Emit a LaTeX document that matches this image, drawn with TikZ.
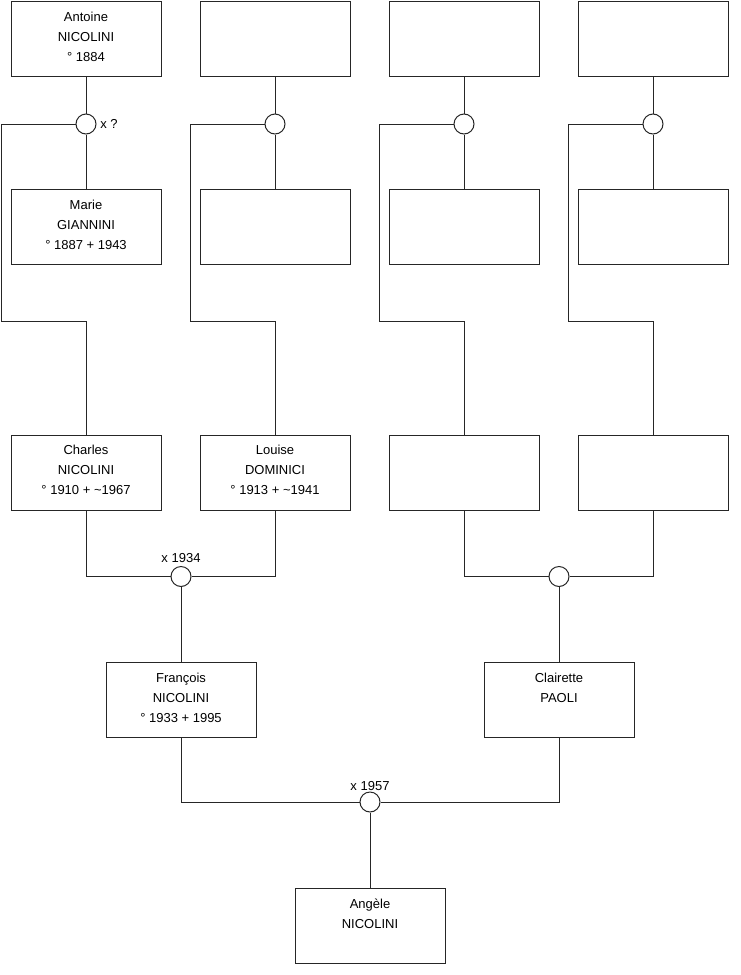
\documentclass[tikz,border=0pt]{standalone}
\usepackage{fontspec}
\setmainfont{Liberation Sans}
\begin{document}
\begin{tikzpicture}[x=0.75pt,y=-0.75pt,
  pbox/.style={draw=black!85,line width=0.75pt,fill=white,rectangle,minimum width=112.5pt,minimum height=56.25pt,inner sep=0pt},
  ptext/.style={anchor=north,align=center,inner sep=0pt,font=\fontsize{9.75}{15}\selectfont},
  union/.style={draw=black!85,line width=0.75pt,fill=white,circle,minimum size=15pt,inner sep=0pt},
  link/.style={draw=black!85,line width=0.75pt},
  ulabel/.style={inner sep=0pt,font=\fontsize{9.75}{15}\selectfont}]
\useasboundingbox (0,0) rectangle (740,975);
% generation 1 (top)
\node[pbox] (g1a) at (86,38.5) {};
\node[pbox] (g1b) at (275,38.5) {};
\node[pbox] (g1c) at (464,38.5) {};
\node[pbox] (g1d) at (653,38.5) {};
% spouses
\node[pbox] (s1a) at (86,227) {};
\node[pbox] (s1b) at (275,227) {};
\node[pbox] (s1c) at (464,227) {};
\node[pbox] (s1d) at (653,227) {};
% unions generation 1
\node[union] (u1a) at (86,124) {};
\node[union] (u1b) at (275,124) {};
\node[union] (u1c) at (464,124) {};
\node[union] (u1d) at (653,124) {};
% generation 2
\node[pbox] (g2a) at (86,472.5) {};
\node[pbox] (g2b) at (275,472.5) {};
\node[pbox] (g2c) at (464,472.5) {};
\node[pbox] (g2d) at (653,472.5) {};
\node[union] (u2a) at (181,576.5) {};
\node[union] (u2b) at (559,576.5) {};
% generation 3
\node[pbox] (g3a) at (181,699.5) {};
\node[pbox] (g3b) at (559,699.5) {};
\node[union] (u3) at (370,802) {};
% generation 4
\node[pbox] (g4) at (370,925.5) {};

% turning points
\coordinate (ka1) at (1,124);   \coordinate (ka2) at (1,321.5);   \coordinate (ka3) at (86,321.5);
\coordinate (kb1) at (190,124); \coordinate (kb2) at (190,321.5); \coordinate (kb3) at (275,321.5);
\coordinate (kc1) at (379,124); \coordinate (kc2) at (379,321.5); \coordinate (kc3) at (464,321.5);
\coordinate (kd1) at (568,124); \coordinate (kd2) at (568,321.5); \coordinate (kd3) at (653,321.5);

% links generation 1
\foreach \c in {a,b,c,d}{
  \draw[link] (g1\c.south) -- (u1\c.north);
  \draw[link] (u1\c.south) -- (s1\c.north);
  \draw[link] (u1\c.west) -- (k\c1) -- (k\c2) -- (k\c3) -- (g2\c.north);
}
% links generation 2
\draw[link] (g2a.south) |- (u2a.west);
\draw[link] (g2b.south) |- (u2a.east);
\draw[link] (g2c.south) |- (u2b.west);
\draw[link] (g2d.south) |- (u2b.east);
\draw[link] (u2a.south) -- (g3a.north);
\draw[link] (u2b.south) -- (g3b.north);
% links generation 3
\draw[link] (g3a.south) |- (u3.west);
\draw[link] (g3b.south) |- (u3.east);
\draw[link] (u3.south) -- (g4.north);

% texts
\node[ptext] (t1a) at (86,11.7) {\rule{0pt}{7pt}Antoine\\NICOLINI\\° 1884};
\node[ptext] (t2a) at (86,199.7) {\rule{0pt}{7pt}Marie\\GIANNINI\\° 1887 + 1943};
\node[ptext] (t3a) at (86,445.2) {\rule{0pt}{7pt}Charles\\NICOLINI\\° 1910 + \textasciitilde1967};
\node[ptext] (t3b) at (275,445.2) {\rule{0pt}{7pt}Louise\\DOMINICI\\° 1913 + \textasciitilde1941};
\node[ptext] (t4a) at (181,672.7) {\rule{0pt}{7pt}François\\NICOLINI\\° 1933 + 1995};
\node[ptext] (t4b) at (559,672.7) {\rule{0pt}{7pt}Clairette\\PAOLI};
\node[ptext] (t5) at (370,898.7) {\rule{0pt}{7pt}Angèle\\NICOLINI};

% union labels
\node[ulabel,anchor=west] (l1) at (100,124) {x ?};
\node[ulabel,anchor=base] (l2) at (181,562.6) {x 1934};
\node[ulabel,anchor=base] (l3) at (370,790.3) {x 1957};
\end{tikzpicture}
\end{document}
